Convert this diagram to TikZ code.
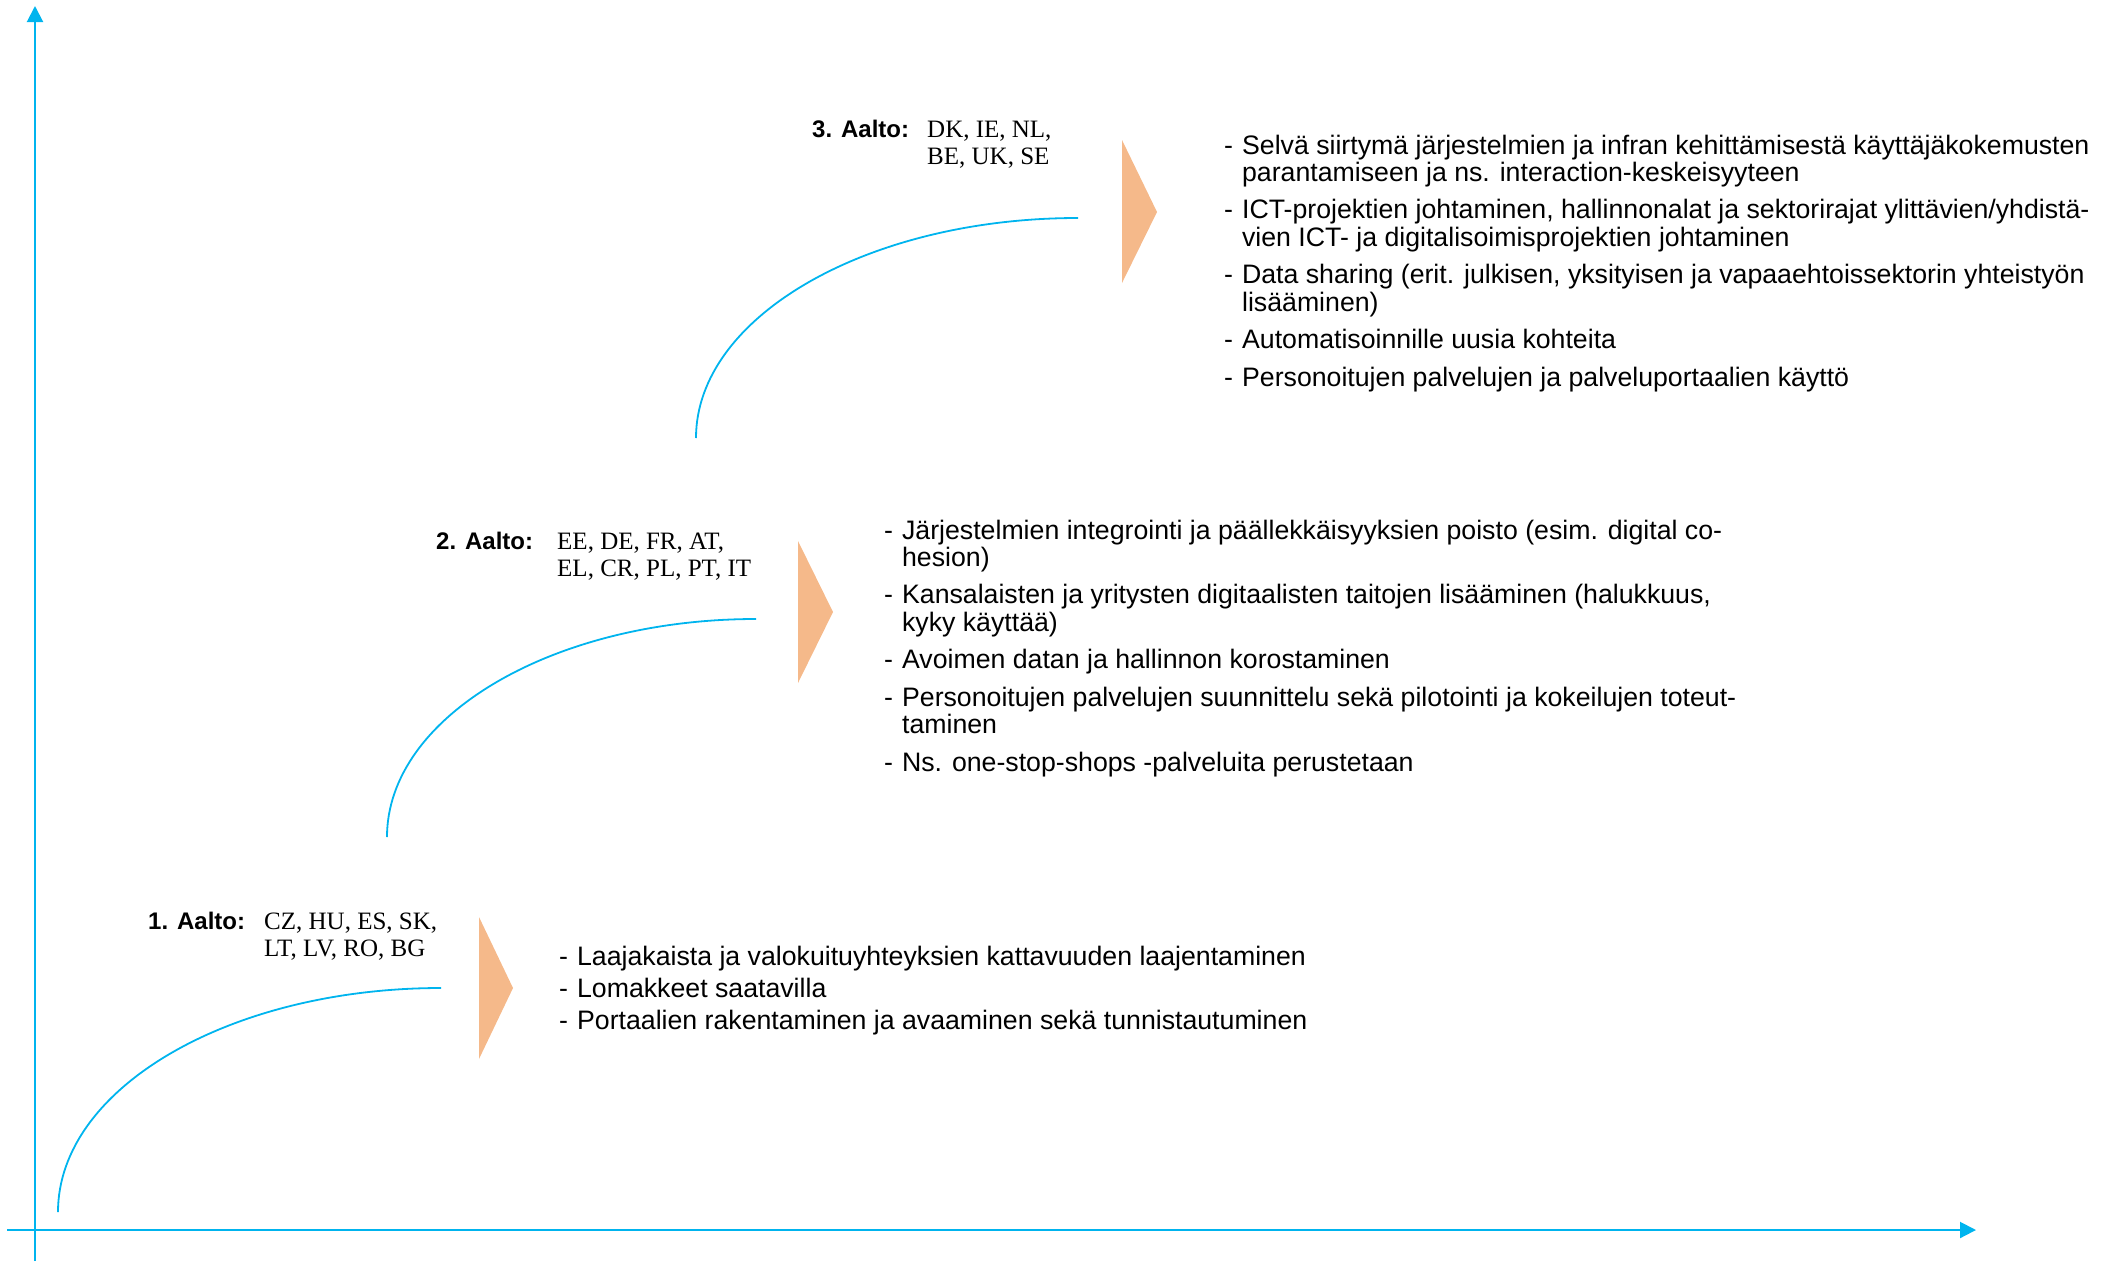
\documentclass[tikz,border=0pt]{standalone}
\usepackage{fontspec}
\setmainfont{Liberation Serif}
\setsansfont{Liberation Sans}
\usetikzlibrary{arrows.meta}
\definecolor{axisblue}{HTML}{00B4EE}
\definecolor{peach}{HTML}{F5B98A}
\newcommand{\itemfont}{\sffamily\fontsize{26.7}{27}\selectfont}
\newcommand{\wavefont}{\sffamily\bfseries\fontsize{24}{27}\selectfont}
\newcommand{\landfont}{\rmfamily\fontsize{25}{27}\selectfont}

\begin{document}
\begin{tikzpicture}[x=1pt,y=-1pt]
\tikzstyle{axis}=[draw=axisblue,line width=2pt,-{Triangle[length=16pt,width=16pt]}]
\tikzstyle{wave}=[draw=axisblue,line width=1.8pt]
\tikzstyle{wedge}=[fill=peach]
\tikzstyle{aalto}=[inner sep=0pt,anchor=base west,font=\wavefont]
\tikzstyle{lands}=[inner sep=0pt,anchor=base west,font=\landfont]
\tikzstyle{items}=[inner sep=0pt,anchor=base west,font=\itemfont]
\useasboundingbox (0,0) rectangle (2114,1261);
% axes
\draw[axis] (35,1261) -- (35,6);
\draw[axis] (7,1230) -- (1976,1230);
% curves
\coordinate (s1) at (58,1212);
\coordinate (e1) at (441,988);
\coordinate (s2) at (387,837);
\coordinate (e2) at (756,619);
\coordinate (s3) at (696,438);
\coordinate (e3) at (1078,218);
\draw[wave] (s1) .. controls +(0,-124) and +(-211,0) .. (e1);
\draw[wave] (s2) .. controls +(0,-120) and +(-204,0) .. (e2);
\draw[wave] (s3) .. controls +(0,-121) and +(-211,0) .. (e3);
% wedges
\fill[wedge] (479,917) -- (513,988) -- (479,1059) -- cycle;
\fill[wedge] (798,541) -- (833,612) -- (798,683) -- cycle;
\fill[wedge] (1122,140) -- (1157,212) -- (1122,283) -- cycle;
% labels
\node[aalto] (a1) at (148,929) {1. Aalto:};
\node[aalto] (a2) at (436,549) {2. Aalto:};
\node[aalto] (a3) at (812,137) {3. Aalto:};
\node[lands] (l1) at (264,929) {\begin{tabular}[t]{@{}l@{}}CZ, HU, ES, SK,\\LT, LV, RO, BG\end{tabular}};
\node[lands] (l2) at (557,549) {\begin{tabular}[t]{@{}l@{}}EE, DE, FR, AT,\\EL, CR, PL, PT, IT\end{tabular}};
\node[lands] (l3) at (927,137) {\begin{tabular}[t]{@{}l@{}}DK, IE, NL,\\BE, UK, SE\end{tabular}};
% lists
\node[items] (b1) at (559,965) {\begin{tabular}[t]{@{}l@{\hspace{9pt}}l@{}}
- & Laajakaista ja valokuituyhteyksien kattavuuden laajentaminen\\[5pt]
- & Lomakkeet saatavilla\\[5pt]
- & Portaalien rakentaminen ja avaaminen sekä tunnistautuminen
\end{tabular}};
\node[items] (b2) at (884,539) {\begin{tabular}[t]{@{}l@{\hspace{9pt}}l@{}}
- & Järjestelmien integrointi ja päällekkäisyyksien poisto (esim. digital co-\\
  & hesion)\\[10pt]
- & Kansalaisten ja yritysten digitaalisten taitojen lisääminen (halukkuus,\\
  & kyky käyttää)\\[10pt]
- & Avoimen datan ja hallinnon korostaminen\\[10pt]
- & Personoitujen palvelujen suunnittelu sekä pilotointi ja kokeilujen toteut-\\
  & taminen\\[10pt]
- & Ns. one-stop-shops -palveluita perustetaan
\end{tabular}};
\node[items] (b3) at (1224,154) {\begin{tabular}[t]{@{}l@{\hspace{9pt}}l@{}}
- & Selvä siirtymä järjestelmien ja infran kehittämisestä käyttäjäkokemusten\\
  & parantamiseen ja ns. interaction-keskeisyyteen\\[10pt]
- & ICT-projektien johtaminen, hallinnonalat ja sektorirajat ylittävien/yhdistä-\\
  & vien ICT- ja digitalisoimisprojektien johtaminen\\[10pt]
- & Data sharing (erit. julkisen, yksityisen ja vapaaehtoissektorin yhteistyön\\
  & lisääminen)\\[10pt]
- & Automatisoinnille uusia kohteita\\[10pt]
- & Personoitujen palvelujen ja palveluportaalien käyttö
\end{tabular}};
\end{tikzpicture}
\end{document}
